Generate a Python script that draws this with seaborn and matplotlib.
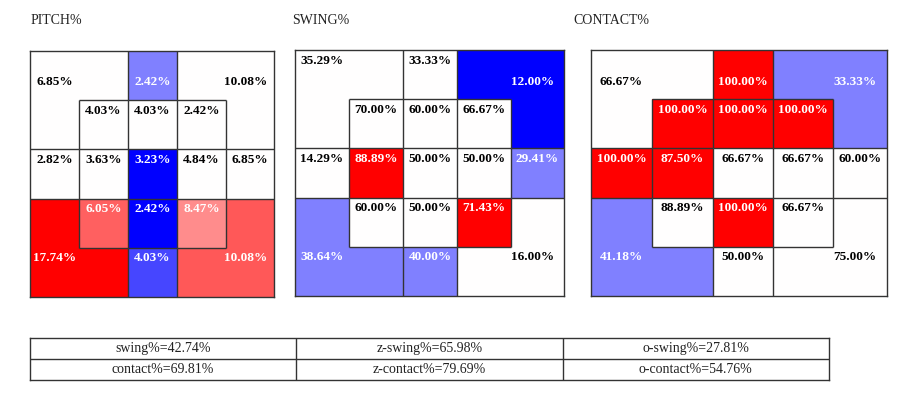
import numpy as np
import pandas as pd
import matplotlib
matplotlib.use("Agg")
import matplotlib.pyplot as plt
from matplotlib.colors import ListedColormap
import seaborn as sns

# ---------------- data ----------------
# zone order: UL, TM, UR, s11, s12, s13, ML, s21, s22, s23, MR, s31, s32, s33, LL, BM, LR
pitch_pct = [6.85, 2.42, 10.08, 4.03, 4.03, 2.42, 2.82, 3.63, 3.23, 4.84, 6.85,
             6.05, 2.42, 8.47, 17.74, 4.03, 10.08]
pitch_heat = [0, -0.5, 0, 0, 0, 0, 0, 0, -1, 0, 0, 0.62, -1, 0.45, 1.0, -0.72, 0.65]

swing_pct = [35.29, 33.33, 12.00, 70.00, 60.00, 66.67, 14.29, 88.89, 50.00, 50.00, 29.41,
             60.00, 50.00, 71.43, 38.64, 40.00, 16.00]
swing_heat = [0, 0, -1, 0, 0, 0, 0, 1, 0, 0, -0.5, 0, 0, 1, -0.5, -0.5, 0]

contact_pct = [66.67, 100.00, 33.33, 100.00, 100.00, 100.00, 100.00, 87.50, 66.67, 66.67, 60.00,
               88.89, 100.00, 66.67, 41.18, 50.00, 75.00]
contact_heat = [0, 1, -0.5, 1, 1, 1, 1, 1, 0, 0, 0, 0, 1, 0, -0.5, 0, 0]

panel_titles = ["PITCH%", "SWING%", "CONTACT%"]

summary_names = ["swing%", "z-swing%", "o-swing%", "contact%", "z-contact%", "o-contact%"]
summary_values = [42.74, 65.98, 27.81, 69.81, 79.69, 54.76]

# ---------------- layout ----------------
REGION_GRID = [
    [0, 0, 1, 2, 2],
    [0, 3, 4, 5, 2],
    [6, 7, 8, 9, 10],
    [14, 11, 12, 13, 16],
    [14, 14, 15, 16, 16],
]
W, H = 900, 395
panel_cols = [[30, 79, 128, 177, 226, 274],
              [295, 349, 403, 457, 511, 564],
              [591, 652, 713, 773, 833, 887]]
panel_rows = [(51, 297), (50, 296), (50, 296)]
title_x = [31, 292, 573]
title_y = 21
row0_y = [[0.63, 0.63, 0.63], [0.22, 0.22, 0.65], [0.65, 0.65, 0.65]]
LINE = "#333333"

plt.rcParams["font.family"] = ["Liberation Serif", "DejaVu Serif"]

fig = plt.figure(figsize=(W / 100, H / 100), dpi=100)


def make_scale(edges):
    e = np.asarray(edges, float) - edges[0]
    xp = np.r_[-1000.0, np.arange(6.0), 1005.0]
    fp = np.r_[e[0] - 1000 * (e[1] - e[0]), e, e[-1] + 1000 * (e[-1] - e[-2])]
    return (lambda x: np.interp(x, xp, fp)), (lambda y: np.interp(y, fp, xp))


panels = [(pitch_pct, pitch_heat), (swing_pct, swing_heat), (contact_pct, contact_heat)]
for k, (pct, heat) in enumerate(panels):
    cols = panel_cols[k]
    top, bot = panel_rows[k]
    ax = fig.add_axes([cols[0] / W, (H - bot) / H, (cols[-1] - cols[0]) / W, (bot - top) / H])
    grid = pd.DataFrame([[heat[REGION_GRID[r][c]] for c in range(5)] for r in range(5)])
    sns.heatmap(grid, ax=ax, cmap="bwr", vmin=-1, vmax=1, cbar=False,
                xticklabels=False, yticklabels=False)
    fwd, inv = make_scale(cols)
    ax.set_xscale("function", functions=(fwd, inv))
    ax.set_xlim(0, 5)
    ax.set_ylim(5, 0)
    ax.set_xticks([])
    ax.set_yticks([])
    for s in ax.spines.values():
        s.set_visible(True)
        s.set_color(LINE)
        s.set_linewidth(1.0)
    # zone boundaries
    for r in range(5):
        for c in range(5):
            if c < 4 and REGION_GRID[r][c] != REGION_GRID[r][c + 1]:
                ax.vlines(c + 1, r, r + 1, color=LINE, lw=1.0)
            if r < 4 and REGION_GRID[r][c] != REGION_GRID[r + 1][c]:
                ax.hlines(r + 1, c, c + 1, color=LINE, lw=1.0)
    r0 = row0_y[k]
    anchors = [(0.5, r0[0]), (2.5, r0[1]), (4.4, r0[2]),
               (1.5, 1.22), (2.5, 1.22), (3.5, 1.22),
               (0.5, 2.22), (1.5, 2.22), (2.5, 2.22), (3.5, 2.22), (4.5, 2.22),
               (1.5, 3.22), (2.5, 3.22), (3.5, 3.22),
               (0.5, 4.2), (2.5, 4.2), (4.4, 4.2)]
    for i, (x, y) in enumerate(anchors):
        ax.text(x, y, f"{pct[i]:.2f}%", ha="center", va="center",
                fontsize=9.5, fontweight="bold",
                color="white" if heat[i] != 0 else "black")
    fig.text(title_x[k] / W, 1 - title_y / H, panel_titles[k], ha="left", va="center",
             fontsize=10, color="#222222")

# summary table
axt = fig.add_axes([30 / W, (H - 380) / H, 799 / W, 42 / H])
labels = np.array([f"{n}={v:.2f}%" for n, v in zip(summary_names, summary_values)]).reshape(2, 3)
sns.heatmap(np.zeros((2, 3)), ax=axt, cmap=ListedColormap(["white"]), cbar=False,
            annot=labels, fmt="", linewidths=0,
            annot_kws={"fontsize": 10, "color": "#222222"},
            xticklabels=False, yticklabels=False)
axt.hlines(1, 0, 3, color=LINE, lw=1.0)
axt.vlines([1, 2], 0, 2, color=LINE, lw=1.0)
for s in axt.spines.values():
    s.set_visible(True)
    s.set_color(LINE)
    s.set_linewidth(1.0)

fig.savefig("out.png", dpi=100)
